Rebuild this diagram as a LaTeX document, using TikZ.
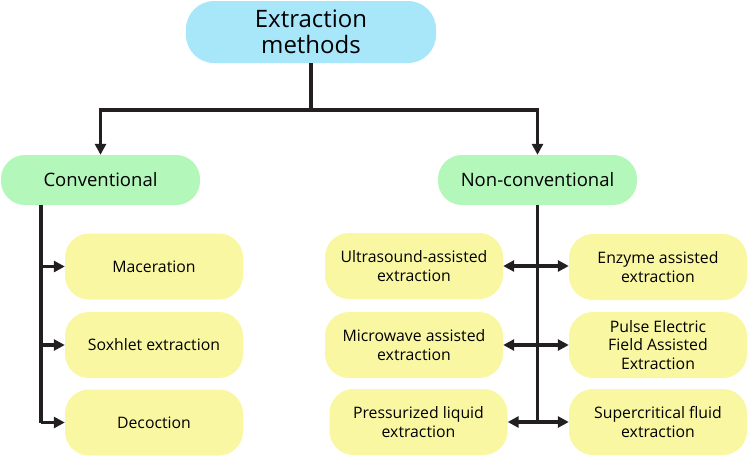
\documentclass[tikz,border=0pt]{standalone}
\usepackage{fontspec}
\setmainfont{Open Sans}
\usetikzlibrary{arrows.meta}
\definecolor{topblue}{RGB}{168,230,250}
\definecolor{midgreen}{RGB}{180,247,186}
\definecolor{leafyellow}{RGB}{250,247,162}
\definecolor{ink}{RGB}{35,31,32}
\begin{document}
\begin{tikzpicture}[x=1pt,y=-1pt,
  topbox/.style={fill=topblue,rounded corners=28pt,minimum width=250pt,minimum height=62pt,align=center,inner sep=0pt,font=\fontsize{24}{26}\selectfont},
  catbox/.style={fill=midgreen,rounded corners=24pt,minimum width=199pt,minimum height=50pt,inner sep=0pt,font=\fontsize{18.5}{22}\selectfont},
  leaf/.style={fill=leafyellow,rounded corners=24pt,minimum width=178pt,minimum height=66pt,align=center,inner sep=0pt,font=\fontsize{15.8}{18.5}\selectfont},
  wire/.style={draw=ink,line width=3.2pt},
  arr/.style={wire,-{Triangle[length=11pt,width=11pt]}},
  arrtwo/.style={wire,{Triangle[length=11pt,width=11pt]}-{Triangle[length=11pt,width=11pt]}}]
\useasboundingbox (0,0) rectangle (749,458);
\node[topbox] (top) at (311,32) {Extraction\\methods};
\node[catbox] (conv) at (100.5,180) {Conventional};
\node[catbox] (ncon) at (537.5,180) {Non-conventional};
\node[leaf] (mac) at (154,266.5) {Maceration};
\node[leaf] (sox) at (154,345) {Soxhlet extraction};
\node[leaf] (dec) at (154,422.5) {Decoction};
\node[leaf] (ult) at (414,266) {Ultrasound-assisted\\extraction};
\node[leaf] (mic) at (414,345) {Microwave assisted\\extraction};
\node[leaf] (pre) at (418.5,422) {Pressurized liquid\\extraction};
\node[leaf] (enz) at (658,267) {Enzyme assisted\\extraction};
\node[leaf] (pul) at (658,345) {Pulse Electric\\Field Assisted\\Extraction};
\node[leaf] (sup) at (658,422) {Supercritical fluid\\extraction};
\coordinate (j) at (311,110);
\coordinate (lx) at (41,0);
\draw[wire] (top.south) -- (j);
\draw[arr] (j) -| (conv.north);
\draw[arr] (j) -| (ncon.north);
\draw[wire] (conv.south -| lx) -- (lx |- dec.west);
\draw[arr] (lx |- mac.west) -- (mac.west);
\draw[arr] (lx |- sox.west) -- (sox.west);
\draw[arr] (lx |- dec.west) -- (dec.west);
\draw[wire] (ncon.south) -- (ncon.south |- pre.east);
\draw[arrtwo] (ult.east) -- (ult.east -| enz.west);
\draw[arrtwo] (mic.east) -- (mic.east -| pul.west);
\draw[arrtwo] (pre.east) -- (pre.east -| sup.west);
\end{tikzpicture}
\end{document}
